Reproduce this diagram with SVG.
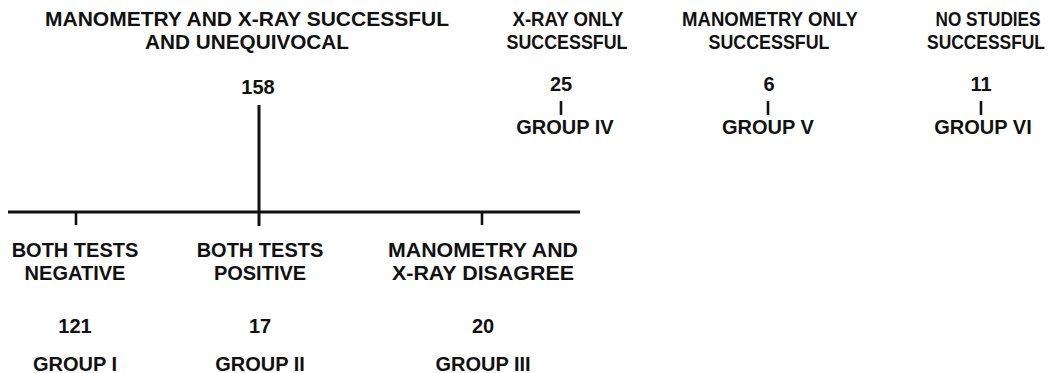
<svg xmlns="http://www.w3.org/2000/svg" width="1050" height="373" viewBox="0 0 1050 373">
  <style>
    text { font-family: "Liberation Sans", Arial, sans-serif; font-weight: bold; font-size: 20px; fill: #111; text-anchor: middle; }
    .line { stroke: #111; stroke-width: 3; fill: none; stroke-linecap: butt; }
    .tick { stroke: #111; stroke-width: 2.6; fill: none; }
  </style>
  <rect width="1050" height="373" fill="#fff"/>

  <!-- connectors: trunk, bar and branch ticks -->
  <g id="connectors">
    <line class="line" x1="259" y1="105" x2="259" y2="226"/>
    <line class="line" x1="8" y1="212" x2="580" y2="212"/>
    <line class="tick" x1="76" y1="212" x2="76" y2="225"/>
    <line class="tick" x1="482" y1="212" x2="482" y2="225"/>
    <line class="tick" x1="561" y1="101" x2="561" y2="115"/>
    <line class="tick" x1="768" y1="101" x2="768" y2="115"/>
    <line class="tick" x1="981" y1="101" x2="981" y2="115"/>
  </g>

  <!-- both studies successful -->
  <g id="both-successful">
    <text x="247" y="26" textLength="404" lengthAdjust="spacingAndGlyphs">MANOMETRY AND X-RAY SUCCESSFUL</text>
    <text x="247" y="49" textLength="204" lengthAdjust="spacingAndGlyphs">AND UNEQUIVOCAL</text>
    <text x="258" y="94">158</text>
  </g>

  <g id="group-1">
    <text x="75" y="257">BOTH TESTS</text>
    <text x="75" y="280">NEGATIVE</text>
    <text x="75" y="333">121</text>
    <text x="75" y="371">GROUP I</text>
  </g>

  <g id="group-2">
    <text x="260" y="257">BOTH TESTS</text>
    <text x="260" y="280">POSITIVE</text>
    <text x="260" y="333">17</text>
    <text x="260" y="371">GROUP II</text>
  </g>

  <g id="group-3">
    <text x="483" y="257" textLength="190" lengthAdjust="spacingAndGlyphs">MANOMETRY AND</text>
    <text x="483" y="280" textLength="182" lengthAdjust="spacingAndGlyphs">X-RAY DISAGREE</text>
    <text x="483" y="333">20</text>
    <text x="483" y="371">GROUP III</text>
  </g>

  <g id="group-4">
    <text x="568" y="26" textLength="111" lengthAdjust="spacingAndGlyphs">X-RAY ONLY</text>
    <text x="567" y="49" textLength="121" lengthAdjust="spacingAndGlyphs">SUCCESSFUL</text>
    <text x="561" y="91">25</text>
    <text x="565" y="134">GROUP IV</text>
  </g>

  <g id="group-5">
    <text x="770" y="26" textLength="176" lengthAdjust="spacingAndGlyphs">MANOMETRY ONLY</text>
    <text x="769" y="49" textLength="121" lengthAdjust="spacingAndGlyphs">SUCCESSFUL</text>
    <text x="769" y="91">6</text>
    <text x="768" y="134">GROUP V</text>
  </g>

  <!-- narrow heading set close to the right edge, condensed horizontally -->
  <g id="group-6">
    <text transform="translate(988 26) scale(0.86 1)">NO STUDIES</text>
    <text transform="translate(986 49) scale(0.87 1)">SUCCESSFUL</text>
    <text x="981" y="91">11</text>
    <text x="983" y="134">GROUP VI</text>
  </g>
</svg>
